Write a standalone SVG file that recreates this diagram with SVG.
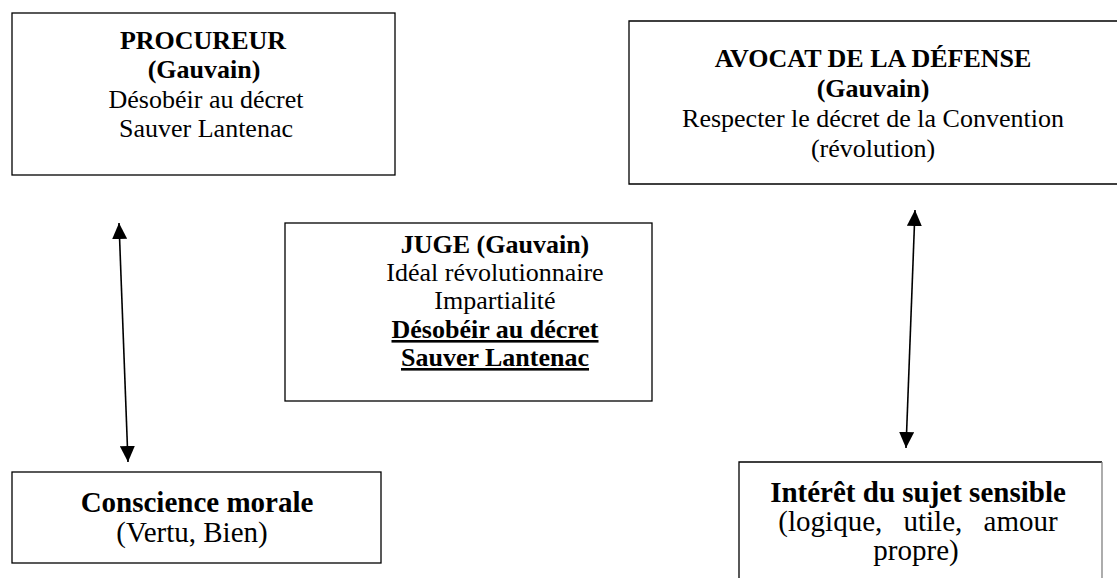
<svg xmlns="http://www.w3.org/2000/svg" width="1117" height="578" viewBox="0 0 1117 578">
  <style>
    .box { fill: #ffffff; stroke: #000000; stroke-width: 1.3; }
    .edge { fill: none; stroke: #000000; stroke-width: 1.3; }
    .t { font-family: "Liberation Serif", "Times New Roman", serif; font-size: 26px; fill: #000000; text-anchor: middle; }
    .big { font-size: 29px; }
    .b { font-weight: bold; }
    .u { text-decoration: underline; }
    .link { fill: none; stroke: #000000; stroke-width: 1.6; marker-start: url(#head); marker-end: url(#head); }
  </style>
  <defs>
    <marker id="head" viewBox="0 0 16 15" refX="16" refY="7.5" markerWidth="16" markerHeight="15" markerUnits="userSpaceOnUse" orient="auto-start-reverse">
      <path d="M0,0 L16,7.5 L0,15 Z" fill="#000000"/>
    </marker>
  </defs>
  <rect width="1117" height="578" fill="#ffffff"/>

  <g id="procureur">
    <rect class="box" x="12" y="13" width="383" height="162"/>
    <text class="t b" x="203" y="49">PROCUREUR</text>
    <text class="t b" x="204" y="78">(Gauvain)</text>
    <text class="t" x="206" y="108">Désobéir au décret</text>
    <text class="t" x="206" y="137">Sauver Lantenac</text>
  </g>

  <g id="avocat">
    <path class="edge" d="M1120,21 H629 V184 H1120"/>
    <text class="t b" x="873" y="67">AVOCAT DE LA DÉFENSE</text>
    <text class="t b" x="873" y="97">(Gauvain)</text>
    <text class="t" x="873" y="127">Respecter le décret de la Convention</text>
    <text class="t" x="873" y="157">(révolution)</text>
  </g>

  <g id="juge">
    <rect class="box" x="285" y="223" width="367" height="178"/>
    <text class="t b" x="495" y="253">JUGE (Gauvain)</text>
    <text class="t" x="495" y="281">Idéal révolutionnaire</text>
    <text class="t" x="495" y="309">Impartialité</text>
    <text class="t b u" x="495" y="338">Désobéir au décret</text>
    <text class="t b u" x="495" y="366">Sauver Lantenac</text>
  </g>

  <g id="conscience">
    <rect class="box" x="12" y="472" width="369" height="91"/>
    <text class="t big b" x="197" y="512">Conscience morale</text>
    <text class="t big" x="192" y="542">(Vertu, Bien)</text>
  </g>

  <g id="interet">
    <path class="edge" d="M739,580 V462 H1102"/>
    <path d="M1102,462 V580" fill="none" stroke="#808080" stroke-width="1.3"/>
    <text class="t big b" x="918" y="502">Intérêt du sujet sensible</text>
    <text class="t big" x="918" y="531" word-spacing="14">(logique, utile, amour</text>
    <text class="t big" x="916" y="560">propre)</text>
  </g>

  <g id="connectors">
    <line class="link" x1="119" y1="223" x2="128" y2="462"/>
    <line class="link" x1="915" y1="210" x2="906" y2="448"/>
  </g>
</svg>
